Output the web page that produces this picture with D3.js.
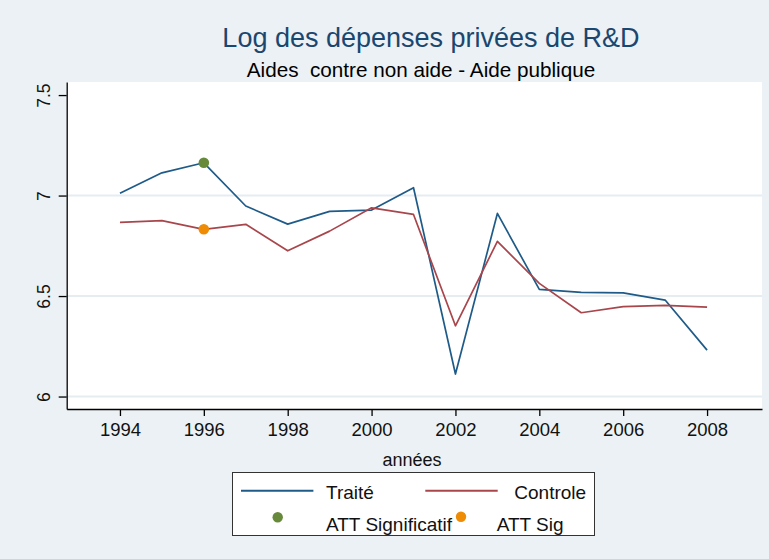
<!DOCTYPE html>
<html>
<head>
<meta charset="utf-8">
<script src="https://cdn.jsdelivr.net/npm/d3@7"></script>
<style>
  body { margin: 0; background: #ebf1f4; }
  svg { display: block; font-family: "Liberation Sans", Arial, sans-serif; }
</style>
</head>
<body>
<div id="chart"></div>
<script>
// data
const years = [1994, 1995, 1996, 1997, 1998, 1999, 2000, 2001, 2002, 2003, 2004, 2005, 2006, 2007, 2008];
const traite = [7.011, 7.113, 7.163, 6.948, 6.858, 6.921, 6.928, 7.039, 6.112, 6.911, 6.533, 6.518, 6.516, 6.480, 6.231];
const controle = [6.867, 6.875, 6.832, 6.857, 6.725, 6.823, 6.939, 6.906, 6.352, 6.772, 6.563, 6.417, 6.447, 6.454, 6.445];
const attSignificatif = [{ year: 1996, value: 7.163 }];
const attSig = [{ year: 1996, value: 6.832 }];
const yTicks = [6, 6.5, 7, 7.5];
const yGrid = [6, 6.5, 7];
const xTicks = [1994, 1996, 1998, 2000, 2002, 2004, 2006, 2008];

const width = 769, height = 559;
const plot = { left: 66.7, right: 762, top: 82, bottom: 409 };

const colors = {
  traite: "#1f5b88",
  controle: "#a8464c",
  sig: "#668a3a",
  sig2: "#ee8c05",
  title: "#1a476f",
  grid: "#e6edf1"
};

const svg = d3.select("#chart")
  .append("svg")
  .attr("width", width)
  .attr("height", height);

svg.append("rect")
  .attr("width", width)
  .attr("height", height)
  .attr("fill", "#ebf1f4");

// plot region
svg.append("rect")
  .attr("x", plot.left)
  .attr("y", plot.top)
  .attr("width", plot.right - plot.left)
  .attr("height", plot.bottom - plot.top)
  .attr("fill", "white");

const x = d3.scaleLinear([1992.73, 2009.31], [plot.left, plot.right]);
const y = d3.scaleLinear([5.938, 7.565], [plot.bottom, plot.top]);

// grid
svg.append("g")
  .selectAll("line")
  .data(yGrid)
  .join("line")
  .attr("x1", plot.left)
  .attr("x2", plot.right)
  .attr("y1", d => y(d))
  .attr("y2", d => y(d))
  .attr("stroke", colors.grid)
  .attr("stroke-width", 2);

// axes
const yAxis = svg.append("g")
  .attr("transform", `translate(${plot.left},0)`)
  .call(d3.axisLeft(y).tickValues(yTicks).tickSize(8).tickSizeOuter(0).tickFormat(d => String(d)));

yAxis.selectAll("text")
  .attr("x", null)
  .attr("dy", null)
  .attr("text-anchor", "middle")
  .attr("transform", `translate(${50 - plot.left},0) rotate(-90)`)
  .style("font-size", "17.5px")
  .attr("fill", "#111");

const xAxis = svg.append("g")
  .attr("transform", `translate(0,${plot.bottom})`)
  .call(d3.axisBottom(x).tickValues(xTicks).tickSize(7).tickSizeOuter(0).tickFormat(d => String(d)));

xAxis.selectAll("text")
  .attr("y", 27)
  .attr("dy", null)
  .style("font-size", "18.5px")
  .attr("fill", "#111");

svg.selectAll(".domain, .tick line")
  .attr("stroke", "#000")
  .attr("stroke-width", 1.3);

// lines
const line = d3.line()
  .x((d, i) => x(years[i]))
  .y(d => y(d));

svg.append("path")
  .datum(traite)
  .attr("fill", "none")
  .attr("stroke", colors.traite)
  .attr("stroke-width", 1.7)
  .attr("stroke-linejoin", "round")
  .attr("d", line);

svg.append("path")
  .datum(controle)
  .attr("fill", "none")
  .attr("stroke", colors.controle)
  .attr("stroke-width", 1.7)
  .attr("stroke-linejoin", "round")
  .attr("d", line);

svg.append("g")
  .selectAll("circle")
  .data(attSignificatif)
  .join("circle")
  .attr("cx", d => x(d.year))
  .attr("cy", d => y(d.value))
  .attr("r", 5.3)
  .attr("fill", colors.sig);

svg.append("g")
  .selectAll("circle")
  .data(attSig)
  .join("circle")
  .attr("cx", d => x(d.year))
  .attr("cy", d => y(d.value))
  .attr("r", 5.3)
  .attr("fill", colors.sig2);

// titles
svg.append("text")
  .attr("x", 431)
  .attr("y", 47.3)
  .attr("text-anchor", "middle")
  .attr("fill", colors.title)
  .style("font-size", "27px")
  .text("Log des dépenses privées de R&D");

svg.append("text")
  .attr("x", 421)
  .attr("y", 77.3)
  .attr("text-anchor", "middle")
  .attr("fill", "#000")
  .style("font-size", "20.7px")
  .style("white-space", "pre")
  .attr("xml:space", "preserve")
  .text("Aides  contre non aide - Aide publique");

svg.append("text")
  .attr("x", 412)
  .attr("y", 466)
  .attr("text-anchor", "middle")
  .attr("fill", "#111")
  .style("font-size", "18px")
  .text("années");

// legend
const legend = svg.append("g");

legend.append("rect")
  .attr("x", 232.5)
  .attr("y", 472.5)
  .attr("width", 362)
  .attr("height", 63)
  .attr("fill", "white")
  .attr("stroke", "#333")
  .attr("stroke-width", 1);

const legendItems = [
  { label: "Traité", type: "line", color: colors.traite, sx: 241, tx: 326, y: 490.7, ty: 499 },
  { label: "Controle", type: "line", color: colors.controle, sx: 425.3, tx: 514.3, y: 490.7, ty: 499 },
  { label: "ATT Significatif", type: "dot", color: colors.sig, sx: 277.7, tx: 326, y: 517.3, ty: 530.7 },
  { label: "ATT Sig", type: "dot", color: colors.sig2, sx: 461, tx: 496.7, y: 516.7, ty: 530.7 }
];

legendItems.forEach(item => {
  if (item.type === "line") {
    legend.append("line")
      .attr("x1", item.sx)
      .attr("x2", item.sx + 72.4)
      .attr("y1", item.y)
      .attr("y2", item.y)
      .attr("stroke", item.color)
      .attr("stroke-width", 2);
  }
  legend.append("text")
    .attr("x", item.tx)
    .attr("y", item.ty)
    .attr("fill", "#111")
    .style("font-size", "19px")
    .text(item.label);
});

// dots last so the orange one sits over the label
legendItems.filter(d => d.type === "dot").forEach(item => {
  legend.append("circle")
    .attr("cx", item.sx)
    .attr("cy", item.y)
    .attr("r", 5.2)
    .attr("fill", item.color);
});
</script>
</body>
</html>
